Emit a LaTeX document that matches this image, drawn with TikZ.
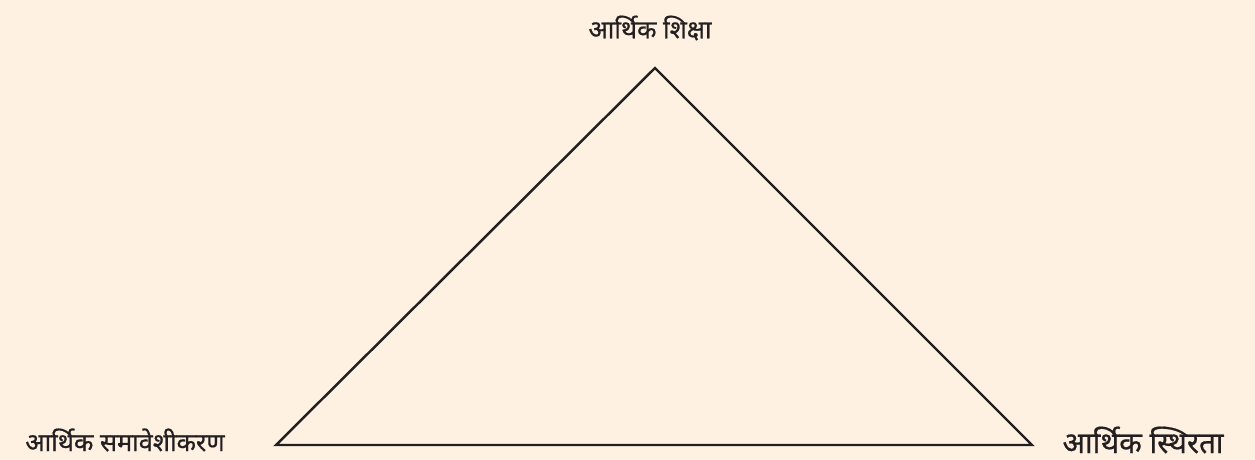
\documentclass[tikz,border=0pt]{standalone}
\usepackage{fontspec}
\newfontfamily\devfont[Script=Devanagari, FakeBold=0.6]{Noto Sans}
\usepackage{tikz}
\usetikzlibrary{positioning}
\definecolor{mycream}{RGB}{254,241,225}
\definecolor{mydark}{RGB}{35,31,32}
\tikzset{
  vlabel/.style={font=\devfont\fontsize{14.4}{16}\selectfont, text=mydark, inner sep=0pt},
  edge/.style={line width=1.4pt, color=mydark, line join=miter}
}

\begin{document}
\begin{tikzpicture}[x=0.02cm, y=-0.02cm]
  % Background
  \fill[mycream] (0,0) rectangle (1255,460);
  \useasboundingbox (0,0) rectangle (1255,460);

  % Corners
  \coordinate (top) at (655,68);
  \coordinate (left) at (276,445);
  \coordinate (right) at (1032,445);

  % Triangle
  \draw[edge] (top) -- (right) -- (left) -- cycle;

  % Labels
  \node[vlabel] (edu) at (650,28) {आर्थिक शिक्षा};
  \node[vlabel] (incl) at (125,440) {आर्थिक समावेशीकरण};
  \node[vlabel, font=\devfont\fontsize{16.8}{19}\selectfont] (stab) at (1143,440) {आर्थिक स्थिरता};
\end{tikzpicture}
\end{document}
